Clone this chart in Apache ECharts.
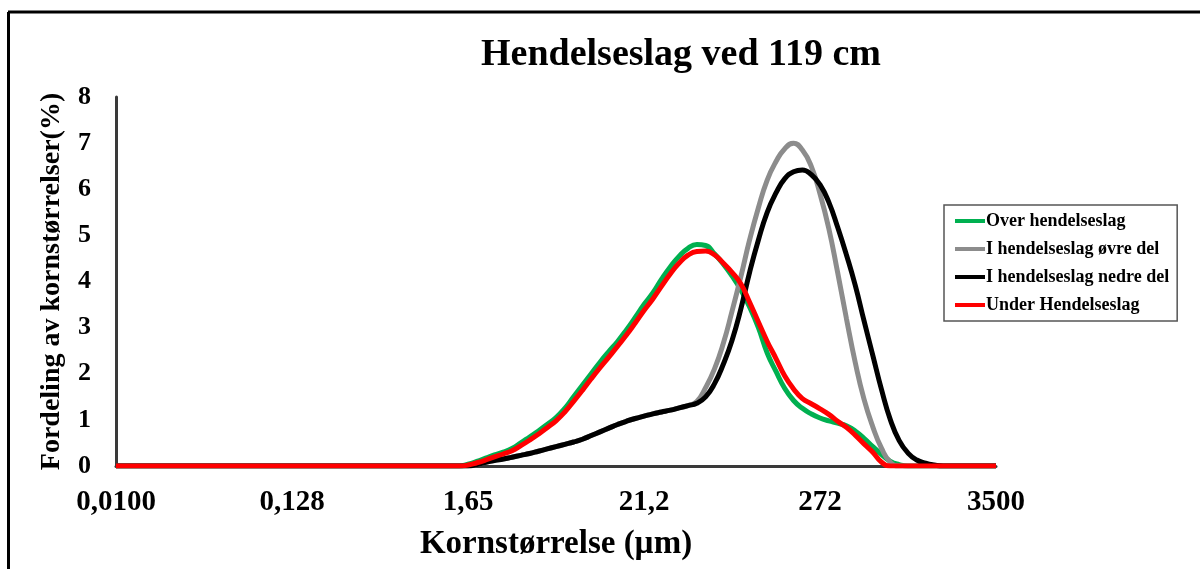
<!DOCTYPE html>
<html>
<head>
<meta charset="utf-8">
<script src="https://cdn.jsdelivr.net/npm/echarts@6/dist/echarts.min.js"></script>
<style>
  html, body { margin: 0; padding: 0; background: #ffffff; }
  #chart { width: 1200px; height: 569px; }
</style>
</head>
<body>
<div id="chart"></div>
<script>
// Grain size classes (µm), laser diffraction bins 0,01 – 3500
const sizeClasses = [
  '0,0100','0,0114','0,0129','0,0147','0,0167','0,0189','0,0215','0,0244','0,0278','0,0315',
  '0,0358','0,0407','0,0463','0,0526','0,0597','0,0679','0,0771','0,0876','0,0995','0,113',
  '0,128','0,146','0,166','0,188','0,214','0,243','0,276','0,314','0,357','0,405',
  '0,460','0,523','0,594','0,675','0,767','0,872','0,991','1,13','1,28','1,45',
  '1,65','1,88','2,13','2,42','2,75','3,12','3,55','4,03','4,58','5,21',
  '5,92','6,72','7,64','8,68','9,86','11,2','12,7','14,5','16,4','18,7',
  '21,2','24,1','27,4','31,1','35,3','40,1','45,6','51,8','58,9','66,9',
  '76,0','86,4','98,1','111','127','144','163','186','211','240',
  '272','310','352','400','454','516','586','666','756','859',
  '976','1110','1260','1430','1630','1850','2100','2390','2710','3080',
  '3500'
];

// Volume % per size class
const overHendelseslag = [
  0,0,0,0,0,0,0,0,0,0,
  0,0,0,0,0,0,0,0,0,0,
  0,0,0,0,0,0,0,0,0,0,
  0,0,0,0,0,0,0,0,0,0,
  0.04,0.10,0.17,0.24,0.30,0.38,0.50,0.63,0.76,0.90,
  1.05,1.25,1.50,1.75,2.00,2.25,2.48,2.70,2.95,3.22,
  3.50,3.75,4.05,4.32,4.55,4.72,4.80,4.78,4.60,4.38,
  4.12,3.82,3.45,3.00,2.45,2.05,1.68,1.42,1.25,1.13,
  1.04,0.98,0.93,0.87,0.76,0.60,0.42,0.25,0.10,0.03,
  0,0,0,0,0,0,0,0,0,0,
  0
];

const hendelseslagOvreDel = [
  0,0,0,0,0,0,0,0,0,0,
  0,0,0,0,0,0,0,0,0,0,
  0,0,0,0,0,0,0,0,0,0,
  0,0,0,0,0,0,0,0,0,0,
  0.00,0.03,0.08,0.12,0.15,0.19,0.23,0.27,0.32,0.37,
  0.42,0.47,0.52,0.58,0.66,0.74,0.82,0.90,0.97,1.03,
  1.08,1.13,1.17,1.21,1.26,1.31,1.40,1.70,2.10,2.65,
  3.35,4.10,4.90,5.60,6.20,6.60,6.88,7.00,6.85,6.50,
  5.90,5.15,4.20,3.20,2.25,1.45,0.85,0.38,0.08,0,
  0,0,0,0,0,0,0,0,0,0,
  0
];

const hendelseslagNedreDel = [
  0,0,0,0,0,0,0,0,0,0,
  0,0,0,0,0,0,0,0,0,0,
  0,0,0,0,0,0,0,0,0,0,
  0,0,0,0,0,0,0,0,0,0,
  0.00,0.03,0.08,0.12,0.15,0.19,0.23,0.27,0.32,0.37,
  0.42,0.47,0.52,0.58,0.66,0.74,0.82,0.90,0.97,1.03,
  1.08,1.13,1.17,1.21,1.26,1.31,1.36,1.50,1.78,2.20,
  2.72,3.40,4.20,4.90,5.50,5.92,6.23,6.38,6.42,6.32,
  6.10,5.72,5.18,4.58,3.92,3.15,2.40,1.65,1.00,0.55,
  0.28,0.13,0.06,0.02,0,0,0,0,0,0,
  0
];

const underHendelseslag = [
  0,0,0,0,0,0,0,0,0,0,
  0,0,0,0,0,0,0,0,0,0,
  0,0,0,0,0,0,0,0,0,0,
  0,0,0,0,0,0,0,0,0,0,
  0.02,0.07,0.13,0.20,0.26,0.33,0.44,0.56,0.69,0.83,
  0.98,1.17,1.40,1.64,1.89,2.13,2.36,2.60,2.84,3.10,
  3.37,3.62,3.90,4.17,4.40,4.57,4.65,4.66,4.58,4.40,
  4.20,3.95,3.55,3.12,2.70,2.33,1.95,1.67,1.46,1.35,
  1.24,1.12,0.97,0.84,0.67,0.48,0.30,0.08,0,0,
  0,0,0,0,0,0,0,0,0,0,
  0
];

const seriesNames = [
  'Over hendelseslag',
  'I hendelseslag øvre del',
  'I hendelseslag nedre del',
  'Under Hendelseslag'
];
const seriesColors = ['#00b050', '#8c8c8c', '#000000', '#ff0000'];
const seriesData = [overHendelseslag, hendelseslagOvreDel, hendelseslagNedreDel, underHendelseslag];

const serif = '"Liberation Serif", "Times New Roman", serif';

const chart = echarts.init(document.getElementById('chart'), null, { renderer: 'canvas' });

chart.setOption({
  backgroundColor: '#ffffff',
  animation: false,
  title: {
    text: 'Hendelseslag ved 119 cm',
    left: 676,
    top: 31,
    textAlign: 'center',
    textStyle: { fontFamily: serif, fontWeight: 'bold', fontSize: 38, color: '#000' }
  },
  grid: { left: 116, right: 204, top: 97, bottom: 103 },
  legend: {
    orient: 'vertical',
    left: 944,
    top: 205,
    padding: [7, 8, 7, 11],
    itemGap: 10,
    itemWidth: 30,
    itemHeight: 4,
    icon: 'rect',
    borderColor: '#555555',
    borderWidth: 1.5,
    textStyle: { fontFamily: serif, fontWeight: 'bold', fontSize: 18, color: '#000', padding: [0, 0, 0, -4] },
    data: seriesNames
  },
  xAxis: {
    type: 'category',
    data: sizeClasses,
    boundaryGap: false,
    name: 'Kornstørrelse (µm)',
    nameLocation: 'middle',
    nameGap: 62,
    nameTextStyle: { fontFamily: serif, fontWeight: 'bold', fontSize: 33, color: '#000' },
    axisLine: { show: true, lineStyle: { color: '#3a3a3a', width: 3 } },
    axisTick: { show: false },
    axisLabel: {
      interval: 19,
      margin: 22,
      fontFamily: serif, fontWeight: 'bold', fontSize: 29, color: '#000'
    },
    splitLine: { show: false }
  },
  yAxis: {
    type: 'value',
    min: 0,
    max: 8,
    interval: 1,
    name: 'Fordeling av kornstørrelser(%)',
    nameLocation: 'middle',
    nameGap: 50,
    nameTextStyle: { fontFamily: serif, fontWeight: 'bold', fontSize: 28, color: '#000' },
    axisLine: { show: true, lineStyle: { color: '#3a3a3a', width: 3 } },
    axisTick: { show: false },
    axisLabel: { margin: 25, fontFamily: serif, fontWeight: 'bold', fontSize: 26, color: '#000' },
    splitLine: { show: false }
  },
  graphic: [
    { type: 'line', shape: { x1: 8, y1: 12, x2: 1200, y2: 12 }, style: { stroke: '#000', lineWidth: 3 }, z: 100 },
    { type: 'line', shape: { x1: 8.5, y1: 12, x2: 8.5, y2: 569 }, style: { stroke: '#000', lineWidth: 3 }, z: 100 }
  ],
  series: seriesNames.map((name, k) => ({
    name: name,
    type: 'line',
    data: seriesData[k],
    smooth: 0.5,
    showSymbol: false,
    symbol: 'none',
    lineStyle: { color: seriesColors[k], width: 5 },
    itemStyle: { color: seriesColors[k] },
    z: 2 + k
  }))
});
</script>
</body>
</html>
